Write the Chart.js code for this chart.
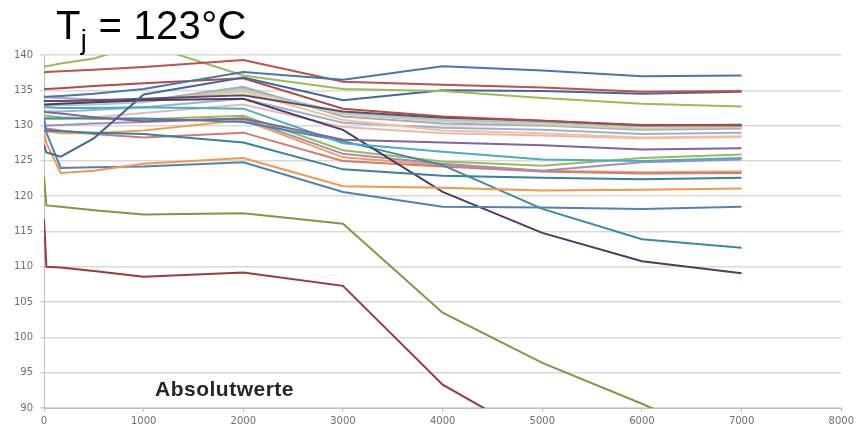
<!DOCTYPE html>
<html>
<head>
<meta charset="utf-8">
<script src="https://cdn.jsdelivr.net/npm/chart.js"></script>
<style>
  html, body { margin: 0; padding: 0; background: #fff; }
  #wrap { position: relative; width: 857px; height: 432px; overflow: hidden; }
  #title {
    position: absolute; left: 56px; top: 5px;
    font-family: "Liberation Sans", Arial, sans-serif; font-size: 40px; line-height: 40px;
    color: #000; white-space: nowrap; letter-spacing: 0.3px;
  }
  #title sub { font-size: 27px; line-height: 0; vertical-align: -10px; }
  #note {
    position: absolute; left: 155px; top: 377px;
    font-family: "Liberation Sans", Arial, sans-serif; font-weight: bold; font-size: 21px;
    color: #262626; white-space: nowrap; letter-spacing: 0.5px;
  }
</style>
</head>
<body>
<div id="wrap">
  <canvas id="chart" width="857" height="432"></canvas>
  <div id="title">T<sub>j</sub> = 123°C</div>
  <div id="note">Absolutwerte</div>
</div>
<script>
// test hours (x) and measured values (y), one array per curve
const hours = [0, 24, 168, 500, 1000, 2000, 3000, 4000, 5000, 6000, 7000];
const xTickValues = [0, 1000, 2000, 3000, 4000, 5000, 6000, 7000, 8000];
const yTickValues = [90, 95, 100, 105, 110, 115, 120, 125, 130, 135, 140];

const blueTop     = [134.1, 134.1, 134.2, 134.5, 135.2, 137.6, 136.5, 138.4, 137.8, 137.0, 137.1];
const redTop      = [137.5, 137.6, 137.7, 137.9, 138.3, 139.3, 136.2, 135.8, 135.4, 134.8, 134.9];
const oliveTop    = [138.3, 138.4, 138.8, 139.5, 141.6, 137.1, 135.2, 134.9, 133.9, 133.1, 132.7];
const blueRise    = [127.3, 126.2, 125.6, 128.2, 134.4, 136.8, 133.6, 135.0, 134.9, 134.5, 134.8];
const redMid      = [135.2, 135.2, 135.3, 135.6, 136.0, 136.7, 132.4, 131.3, 130.7, 130.0, 130.0];
const purple1     = [132.0, 131.9, 131.7, 131.2, 130.6, 131.0, 128.0, 127.6, 127.2, 126.6, 126.8];
const cyan1       = [132.6, 132.6, 132.5, 132.5, 132.6, 132.4, 127.5, 126.3, 125.2, 125.0, 125.4];
const orange1     = [129.0, 127.5, 123.3, 123.6, 124.6, 125.4, 121.4, 121.2, 120.8, 120.9, 121.1];
const blueLow     = [131.2, 129.0, 124.0, 124.1, 124.2, 124.8, 120.6, 118.5, 118.4, 118.2, 118.5];
const teal1       = [129.3, 129.3, 129.2, 129.0, 128.8, 127.6, 123.8, 122.9, 122.6, 122.4, 122.6];
const purpleFall  = [133.0, 133.0, 133.1, 133.3, 133.6, 133.8, 129.4, 120.6, 114.8, 110.8, 109.1];
const tealFall    = [131.0, 131.0, 131.0, 131.0, 131.0, 130.5, 127.8, 124.4, 118.2, 113.9, 112.7];
const oliveLow    = [122.7, 118.7, 118.5, 118.0, 117.4, 117.6, 116.1, 103.5, 96.4, 90.6, 84.5];
const redLow      = [116.8, 110.0, 109.9, 109.4, 108.6, 109.2, 107.3, 93.3, 85.3, null, null];
const green1      = [131.5, 131.4, 131.2, 131.0, 130.9, 131.4, 126.5, 124.9, 124.3, 125.4, 125.9];
const lilac1      = [130.0, 130.0, 130.1, 130.3, 130.5, 131.0, 126.0, 124.6, 123.6, 124.8, 125.2];
const red3        = [129.8, 129.6, 129.3, 128.8, 128.3, 129.0, 125.0, 124.2, 123.5, 123.2, 123.3];
const orange2     = [129.3, 129.2, 128.9, 128.9, 129.3, 130.8, 125.5, 124.4, 123.6, 123.4, 123.5];
const purpleDark  = [133.5, 133.5, 133.5, 133.6, 133.8, 134.3, 132.0, 131.1, 130.7, 130.1, 130.1];
const greyGreen   = [133.0, 133.0, 133.0, 133.2, 133.5, 135.0, 131.6, 130.6, 130.2, 129.6, 129.8];
const salmon      = [133.5, 133.5, 133.4, 133.3, 133.4, 134.8, 130.8, 129.3, 128.9, 128.3, 128.5];
const lightBlue   = [132.0, 132.0, 132.0, 132.2, 132.6, 133.8, 130.4, 129.7, 129.4, 128.8, 129.0];
const lightPurple = [134.0, 134.0, 133.9, 133.7, 133.5, 135.5, 131.3, 130.3, 130.0, 129.4, 129.6];
const pink        = [131.0, 131.0, 131.0, 131.2, 131.8, 133.0, 129.8, 128.9, 128.6, 128.2, 128.4];
const lightCyan   = [132.8, 132.8, 132.9, 133.0, 133.3, 135.2, 131.8, 130.8, 130.4, 129.9, 130.2];

const curves = [
  [blueTop, '#4a76b0'], [redTop, '#c0504d'], [oliveTop, '#9bbb59'], [blueRise, '#41679c'],
  [redMid, '#b44a47'], [purple1, '#8064a2'], [cyan1, '#4bacc6'], [orange1, '#f79646'],
  [blueLow, '#4f81bd'], [teal1, '#31859c'], [purpleFall, '#4d3b62'], [tealFall, '#3a8aa6'],
  [oliveLow, '#7f9a3e'], [redLow, '#9c3a38'], [green1, '#9bbb59'], [lilac1, '#a08cc0'],
  [red3, '#d07a78'], [orange2, '#f0a050'], [purpleDark, '#604a7b'], [greyGreen, '#c3d69b'],
  [salmon, '#fac090'], [lightBlue, '#95b3d7'], [lightPurple, '#b3a2c7'], [pink, '#e6b9b8'],
  [lightCyan, '#93cddd']
];

const tickFont = { family: 'DejaVu Sans', size: 10 };

new Chart(document.getElementById('chart'), {
  type: 'line',
  data: {
    datasets: curves.map(([vals, color]) => ({
      data: hours.map((h, i) => ({ x: h, y: vals[i] })),
      borderColor: color,
      borderWidth: 2,
      pointRadius: 0,
      tension: 0,
      fill: false,
      clip: 0
    }))
  },
  options: {
    responsive: false,
    animation: false,
    layout: { padding: { top: 55, right: 11, left: 0, bottom: 0 } },
    plugins: { legend: { display: false }, tooltip: { enabled: false } },
    scales: {
      x: {
        type: 'linear', min: 0, max: 8000,
        afterBuildTicks: s => { s.ticks = xTickValues.map(v => ({ value: v })); },
        afterFit: s => { s.height = 24; },
        grid: { drawOnChartArea: false, color: '#bfbfbf', tickLength: 4 },
        border: { color: '#bfbfbf' },
        ticks: { color: '#6f6f6f', font: tickFont, padding: 3, maxRotation: 0, callback: v => String(v) }
      },
      y: {
        min: 90, max: 140,
        afterBuildTicks: s => { s.ticks = yTickValues.map(v => ({ value: v })); },
        afterFit: s => { s.width = 44; },
        grid: { color: '#d9d9d9', tickLength: 4, lineWidth: 1.5 },
        border: { color: '#bfbfbf' },
        ticks: { color: '#6f6f6f', font: tickFont, padding: 7, callback: v => String(v) }
      }
    }
  }
});
</script>
</body>
</html>
